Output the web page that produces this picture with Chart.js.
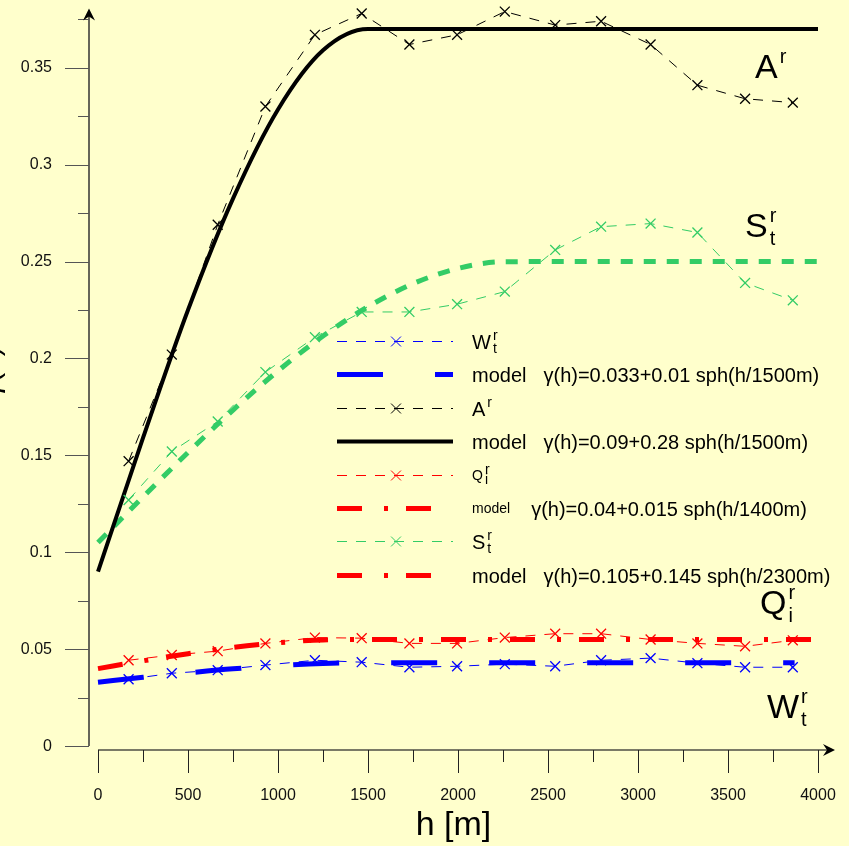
<!DOCTYPE html>
<html>
<head>
<meta charset="utf-8">
<script src="https://cdn.jsdelivr.net/npm/chart.js@4.4.1/dist/chart.umd.min.js"></script>
<style>
  html, body { margin: 0; padding: 0; background: #ffffcc; }
  #wrap { width: 849px; height: 846px; }
</style>
</head>
<body>
<div id="wrap"><canvas id="chart"></canvas></div>
<script>
// lag distances of the experimental variogram points [m]
const lagH = [170, 410, 665, 930, 1205, 1465, 1730, 1995, 2260, 2540, 2795, 3070, 3330, 3595, 3860];

// experimental values
const wObs = [0.0345, 0.0376, 0.0392, 0.0418, 0.0443, 0.0433, 0.0407, 0.0412, 0.0423, 0.0412, 0.0443, 0.0454, 0.0428, 0.0407, 0.0407];
const aObs = [0.147, 0.202, 0.269, 0.330, 0.367, 0.378, 0.362, 0.367, 0.379, 0.372, 0.374, 0.362, 0.341, 0.334, 0.332];
const qObs = [0.0443, 0.047, 0.049, 0.053, 0.056, 0.0557, 0.053, 0.053, 0.056, 0.058, 0.058, 0.055, 0.053, 0.0515, 0.0546];
const sObs = [0.127, 0.152, 0.1675, 0.193, 0.211, 0.224, 0.224, 0.228, 0.2345, 0.256, 0.268, 0.2696, 0.265, 0.239, 0.230];

// fitted spherical models
const wModelH = [0, 250, 500, 750, 1000, 1250, 1500, 3870];
const wModel = [0.033, 0.0355, 0.0378, 0.0399, 0.0415, 0.0426, 0.043, 0.043];
const aModelH = [0, 250, 500, 750, 1000, 1250, 1500, 4000];
const aModel = [0.09, 0.159, 0.225, 0.2825, 0.3285, 0.359, 0.37, 0.37];
const qModelH = [0, 250, 500, 750, 1000, 1250, 1500, 4000];
const qModel = [0.04, 0.044, 0.0477, 0.0509, 0.0533, 0.0548, 0.055, 0.055];
const sModelH = [0, 250, 500, 750, 1000, 1250, 1500, 1750, 2000, 2250, 2500, 4000];
const sModel = [0.105, 0.1286, 0.1515, 0.1734, 0.1936, 0.2116, 0.2267, 0.2386, 0.2465, 0.2499, 0.25, 0.25];

// axis ticks
const xTicks = [0, 500, 1000, 1500, 2000, 2500, 3000, 3500, 4000];
const xMinor = [250, 750, 1250, 1750, 2250, 2750, 3250, 3750];
const yTicks = [0, 0.05, 0.1, 0.15, 0.2, 0.25, 0.3, 0.35];
const yTickLabels = ['0', '0.05', '0.1', '0.15', '0.2', '0.25', '0.3', '0.35'];
const yMinor = [0.025, 0.075, 0.125, 0.175, 0.225, 0.275, 0.325, 0.375];

// legend texts (base, subscript, superscript, formula) and which dataset gives the style
const legendBase = ['W', 'model', 'A', 'model', 'Q', 'model', 'S', 'model'];
const legendSub = ['t', '', '', '', 'i', '', 't', ''];
const legendSup = ['r', '', 'r', '', 'r', '', 'r', ''];
const legendFormula = ['', 'γ(h)=0.033+0.01 sph(h/1500m)', '', 'γ(h)=0.09+0.28 sph(h/1500m)',
                       '', 'γ(h)=0.04+0.015 sph(h/1400m)', '', 'γ(h)=0.105+0.145 sph(h/2300m)'];
const legendStyleOf = [0, 1, 2, 3, 4, 5, 6, 5];

const FONT = '"Liberation Sans", Arial, sans-serif';
const GREEN = '#33cc66';

const pts = (xs, ys) => xs.map((h, i) => ({x: h, y: ys[i]}));

// thin dashed line with crosses for the measured points
function obsSet(data, color) {
    return {
        data: data, borderColor: color, backgroundColor: color,
        borderWidth: 1, borderDash: [10, 9],
        pointStyle: 'crossRot', pointRadius: 7, pointBorderWidth: 1.3, pointHoverRadius: 7,
        tension: 0, order: 0, clip: false
    };
}
// thick model curve
function modelSet(data, color, width, dash) {
    return {
        data: data, borderColor: color, backgroundColor: color,
        borderWidth: width, borderDash: dash, pointRadius: 0,
        cubicInterpolationMode: 'monotone', order: 1, clip: false
    };
}

function drawRich(ctx, base, sub, sup, x, baseline, size, small) {
    ctx.font = size + 'px ' + FONT;
    ctx.textAlign = 'left';
    ctx.textBaseline = 'alphabetic';
    ctx.fillText(base, x, baseline);
    const w = ctx.measureText(base).width;
    ctx.font = small + 'px ' + FONT;
    if (sup) ctx.fillText(sup, x + w + 2, baseline - size * 0.45);
    if (sub) ctx.fillText(sub, x + w + 2, baseline + size * 0.23);
}

function seg(ctx, x1, y1, x2, y2) {
    ctx.beginPath(); ctx.moveTo(x1, y1); ctx.lineTo(x2, y2); ctx.stroke();
}

// background, axes with arrows and tick marks
const axesPlugin = {
    id: 'axes',
    beforeDraw(chart) {
        const ctx = chart.ctx;
        ctx.save();
        ctx.fillStyle = '#ffffcc';
        ctx.fillRect(0, 0, chart.width, chart.height);
        ctx.restore();
    },
    beforeDatasetsDraw(chart) {
        const {ctx, chartArea: ca} = chart;
        const x = chart.scales.x, y = chart.scales.y;
        const ax = ca.left, ay = ca.bottom;
        ctx.save();
        ctx.strokeStyle = '#333';
        ctx.lineWidth = 1.5;
        seg(ctx, ax, y.getPixelForValue(0), ax, ca.top + 4);
        ctx.lineWidth = 1;
        ctx.strokeStyle = '#555';
        yTicks.forEach(v => { const p = Math.round(y.getPixelForValue(v)) + 0.5; seg(ctx, ax - 24, p, ax, p); });
        yMinor.forEach(v => { const p = Math.round(y.getPixelForValue(v)) + 0.5; seg(ctx, ax - 11, p, ax, p); });

        ctx.strokeStyle = '#7a7a66';
        ctx.lineWidth = 2;
        seg(ctx, x.getPixelForValue(0), ay, ca.right + 10, ay);
        ctx.strokeStyle = '#222';
        ctx.lineWidth = 1;
        xTicks.forEach(v => { const p = Math.round(x.getPixelForValue(v)) + 0.5; seg(ctx, p, ay, p, ay + 23); });
        xMinor.forEach(v => { const p = Math.round(x.getPixelForValue(v)) + 0.5; seg(ctx, p, ay, p, ay + 12); });

        // arrow heads
        ctx.fillStyle = '#000';
        ctx.beginPath();
        ctx.moveTo(ax, ca.top - 1); ctx.lineTo(ax - 6, ca.top + 11); ctx.lineTo(ax, ca.top + 7); ctx.lineTo(ax + 6, ca.top + 11);
        ctx.closePath(); ctx.fill();
        const tip = ca.right + 17;
        ctx.beginPath();
        ctx.moveTo(tip, ay); ctx.lineTo(tip - 12, ay - 6); ctx.lineTo(tip - 8, ay); ctx.lineTo(tip - 12, ay + 6);
        ctx.closePath(); ctx.fill();

        // y title, mostly cut off at the left edge
        ctx.save();
        ctx.translate(-1, 372);
        ctx.rotate(-Math.PI / 2);
        ctx.font = '30px ' + FONT;
        ctx.textAlign = 'center';
        ctx.textBaseline = 'alphabetic';
        ctx.fillText('γ(h)', 0, 0);
        ctx.restore();
        ctx.restore();
    },
    afterDraw(chart) {
        const ctx = chart.ctx;
        const sets = chart.data.datasets;
        ctx.save();
        ctx.fillStyle = '#000';
        // curve names
        drawRich(ctx, 'A', '', 'r', 755, 78, 34, 20);
        drawRich(ctx, 'S', 't', 'r', 745, 237, 34, 20);
        drawRich(ctx, 'Q', 'i', 'r', 760, 614, 34, 20);
        drawRich(ctx, 'W', 't', 'r', 767, 718, 34, 20);

        // legend
        legendBase.forEach((base, i) => {
            const ry = Math.round(341 + i * 33.4) + 0.5;
            const ds = sets[legendStyleOf[i]];
            ctx.strokeStyle = ds.borderColor;
            ctx.lineWidth = ds.borderWidth;
            ctx.setLineDash(ds.borderDash || []);
            seg(ctx, 337, ry, 453, ry);
            ctx.setLineDash([]);
            if (ds.pointRadius > 0) {
                Chart.helpers.drawPoint(ctx, {pointStyle: ds.pointStyle, radius: ds.pointRadius, borderWidth: ds.pointBorderWidth, rotation: 0}, 396, ry);
            }
            ctx.fillStyle = '#000';
            const size = (i === 4 || i === 5) ? 14 : 20;
            drawRich(ctx, base, legendSub[i], legendSup[i], 472, ry + size * 0.35, size, 14);
            if (legendFormula[i]) {
                ctx.font = size + 'px ' + FONT;
                const fx = 472 + ctx.measureText(base).width + (size === 20 ? 17 : 21);
                ctx.font = '20px ' + FONT;
                ctx.fillText(legendFormula[i], fx, ry + 7);
            }
        });
        ctx.restore();
    }
};

new Chart(document.getElementById('chart'), {
    type: 'line',
    data: {
        datasets: [
            obsSet(pts(lagH, wObs), '#0000ff'),
            modelSet(pts(wModelH, wModel), '#0000ff', 5, [46, 52]),
            obsSet(pts(lagH, aObs), '#000000'),
            modelSet(pts(aModelH, aModel), '#000000', 4, []),
            obsSet(pts(lagH, qObs), '#ff0000'),
            modelSet(pts(qModelH, qModel), '#ff0000', 5, [25, 22, 4, 18]),
            obsSet(pts(lagH, sObs), GREEN),
            modelSet(pts(sModelH, sModel), GREEN, 5, [12, 11])
        ]
    },
    options: {
        responsive: true,
        maintainAspectRatio: false,
        animation: false,
        layout: { padding: { top: 9, right: 31, left: 0, bottom: 0 } },
        plugins: { legend: { display: false }, tooltip: { enabled: false } },
        scales: {
            x: {
                type: 'linear', min: -50, max: 4000,
                // the tick marks themselves are drawn by the axes plugin, the grid only spaces the labels
                grid: { display: true, drawOnChartArea: false, tickLength: 36, tickColor: 'rgba(0,0,0,0)' },
                border: { display: false },
                afterBuildTicks: s => { s.ticks = xTicks.map(v => ({value: v})); },
                afterFit: s => { s.height = 96; },
                ticks: { padding: 0, color: '#111', font: { family: FONT, size: 16 }, maxRotation: 0, callback: v => String(v) },
                title: { display: true, text: 'h [m]', color: '#000', font: { family: FONT, size: 34 }, padding: { top: 0, bottom: 0 } }
            },
            y: {
                type: 'linear', min: -0.002, max: 0.38,
                grid: { display: true, drawOnChartArea: false, tickLength: 37, tickColor: 'rgba(0,0,0,0)' },
                border: { display: false },
                afterBuildTicks: s => { s.ticks = yTicks.map(v => ({value: v})); },
                afterFit: s => { s.width = 89; },
                ticks: { padding: 0, color: '#111', font: { family: FONT, size: 16 },
                         callback: v => yTickLabels[yTicks.indexOf(v)] }
            }
        }
    },
    plugins: [axesPlugin]
});
</script>
</body>
</html>
